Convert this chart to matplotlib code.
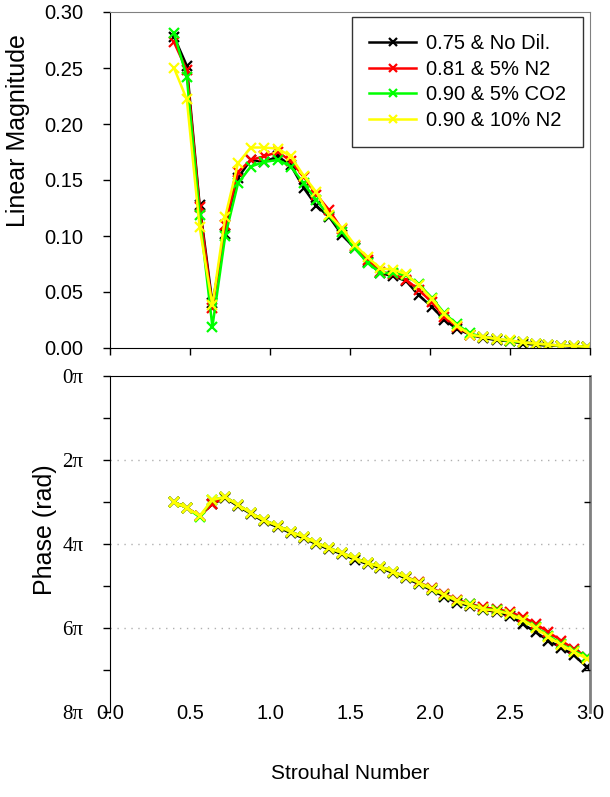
import matplotlib
matplotlib.use("Agg")
import matplotlib.pyplot as plt
import numpy as np

plt.rcParams['font.family'] = ['Liberation Sans', 'DejaVu Sans']

strouhal = [0.40, 0.48, 0.56, 0.64, 0.72, 0.80, 0.88, 0.96, 1.05, 1.13, 1.21,
            1.29, 1.37, 1.45, 1.53, 1.61, 1.69, 1.77, 1.85, 1.93, 2.01, 2.09,
            2.17, 2.25, 2.33, 2.42, 2.50, 2.58, 2.66, 2.74, 2.82, 2.90, 2.98]

labels = ["0.75 & No Dil.", "0.81 & 5% N2", "0.90 & 5% CO2", "0.90 & 10% N2"]
colors = ["#000000", "#ff0000", "#00ff00", "#ffff00"]

mag_black = [0.278, 0.252, 0.128, 0.040, 0.102, 0.152, 0.168, 0.166, 0.171, 0.163, 0.143,
             0.127, 0.117, 0.101, 0.089, 0.077, 0.067, 0.064, 0.060, 0.047, 0.037, 0.025,
             0.017, 0.012, 0.009, 0.007, 0.006, 0.004, 0.003, 0.002, 0.002, 0.001, 0.001]
mag_red = [0.273, 0.248, 0.126, 0.036, 0.110, 0.157, 0.168, 0.171, 0.175, 0.167, 0.153,
           0.137, 0.123, 0.106, 0.091, 0.079, 0.068, 0.066, 0.061, 0.052, 0.041, 0.028,
           0.019, 0.012, 0.010, 0.008, 0.006, 0.005, 0.004, 0.003, 0.002, 0.002, 0.001]
mag_green = [0.281, 0.242, 0.119, 0.019, 0.100, 0.147, 0.162, 0.166, 0.168, 0.162, 0.147,
             0.132, 0.118, 0.104, 0.089, 0.076, 0.067, 0.067, 0.065, 0.057, 0.045, 0.031,
             0.021, 0.013, 0.010, 0.008, 0.006, 0.005, 0.004, 0.003, 0.002, 0.002, 0.001]
mag_yellow = [0.250, 0.222, 0.108, 0.038, 0.117, 0.165, 0.179, 0.179, 0.178, 0.171, 0.154,
              0.139, 0.119, 0.107, 0.092, 0.081, 0.071, 0.070, 0.066, 0.056, 0.044, 0.030,
              0.020, 0.012, 0.010, 0.008, 0.007, 0.005, 0.004, 0.003, 0.002, 0.002, 0.001]

# phase in units of pi
ph_black = [3.00, 3.14, 3.33, 3.05, 2.90, 3.10, 3.28, 3.46, 3.60, 3.74, 3.86,
            4.00, 4.13, 4.24, 4.37, 4.48, 4.57, 4.69, 4.82, 4.95, 5.10, 5.25,
            5.40, 5.47, 5.56, 5.62, 5.72, 5.90, 6.10, 6.30, 6.47, 6.65, 6.93]
ph_red = [3.00, 3.14, 3.33, 3.05, 2.88, 3.07, 3.26, 3.43, 3.57, 3.71, 3.83,
          3.97, 4.10, 4.21, 4.34, 4.45, 4.54, 4.66, 4.78, 4.91, 5.05, 5.19,
          5.33, 5.42, 5.51, 5.55, 5.62, 5.74, 5.90, 6.10, 6.30, 6.50, 6.68]
ph_green = [3.00, 3.14, 3.36, 2.95, 2.88, 3.07, 3.26, 3.43, 3.57, 3.71, 3.83,
            3.97, 4.10, 4.21, 4.34, 4.45, 4.54, 4.66, 4.79, 4.92, 5.07, 5.21,
            5.35, 5.44, 5.54, 5.58, 5.66, 5.80, 5.98, 6.18, 6.38, 6.55, 6.68]
ph_yellow = [3.00, 3.14, 3.33, 2.95, 2.88, 3.07, 3.26, 3.43, 3.57, 3.71, 3.83,
             3.97, 4.10, 4.21, 4.34, 4.45, 4.54, 4.66, 4.79, 4.92, 5.07, 5.21,
             5.36, 5.45, 5.55, 5.59, 5.67, 5.81, 6.00, 6.21, 6.40, 6.57, 6.73]

mags = [mag_black, mag_red, mag_green, mag_yellow]
phases = [ph_black, ph_red, ph_green, ph_yellow]

W, H = 610, 797
fig = plt.figure(figsize=(W / 100, H / 100), dpi=100)

def frac(x0, y0, x1, y1):
    return [x0 / W, 1 - y1 / H, (x1 - x0) / W, (y1 - y0) / H]

ax1 = fig.add_axes(frac(110, 12, 590, 348))
ax2 = fig.add_axes(frac(110, 376, 590, 712))

for m, c, lab in zip(mags, colors, labels):
    ax1.plot(strouhal, m, color=c, lw=1.8, marker='x', ms=7, mew=1.6, label=lab)

for p, c in zip(phases, colors):
    ax2.plot(strouhal, p, color=c, lw=1.8, marker='x', ms=7.5, mew=1.7)

# top axes styling
ax1.set_xlim(0, 3.0)
ax1.set_ylim(0, 0.30)
ax1.set_yticks(np.arange(0, 0.301, 0.05))
ax1.set_yticklabels([f"{v:.2f}" for v in np.arange(0, 0.301, 0.05)])
ax1.set_xticks(np.arange(0, 3.01, 0.5))
ax1.tick_params(axis='x', labelbottom=False, direction='out', length=5, width=1)
ax1.tick_params(axis='y', direction='out', length=5, width=1, labelsize=14.5, pad=14)
for s in ['top', 'right']:
    ax1.spines[s].set_color('#808080')
for s in ['left', 'bottom']:
    ax1.spines[s].set_color('black')
ax1.set_ylabel("Linear Magnitude", fontsize=18)
ax1.yaxis.set_label_coords(-0.167, 0.646)

leg = ax1.legend(loc='upper right', bbox_to_anchor=(0.9854, 0.985), borderaxespad=0,
                 fontsize=14.5, frameon=True, fancybox=False, edgecolor='black',
                 handlelength=2.3, handletextpad=0.5, labelspacing=0.33,
                 borderpad=0.85, markerscale=0.8)
leg.get_frame().set_linewidth(1.0)

# bottom axes styling
ax2.set_xlim(0, 3.0)
ax2.set_ylim(8, 0)
ax2.set_yticks([0, 2, 4, 6, 8])
ax2.set_yticklabels(["0\u03c0", "2\u03c0", "4\u03c0", "6\u03c0", "8\u03c0"],
                    family=['Liberation Serif', 'DejaVu Serif'], fontsize=15)
ax2.set_yticks([1, 3, 5, 7], minor=True)
ax2.tick_params(axis='y', which='both', direction='out', length=5, width=1, pad=14)
ax2.set_xticks(np.arange(0, 3.01, 0.5))
ax2.set_xticklabels([f"{v:.1f}" for v in np.arange(0, 3.01, 0.5)], fontsize=14.5)
ax2.tick_params(axis='x', direction='out', length=0, pad=-6)
for g in [2, 4, 6]:
    ax2.axhline(g, color='#b0b0b0', lw=1.0, ls=(0, (1, 4)), zorder=0)
ax2.spines['right'].set_color('#808080')
ax2.spines['right'].set_linewidth(2)
ax2.spines['bottom'].set_visible(False)
ax2.set_ylabel("Phase (rad)", fontsize=18)
ax2.yaxis.set_label_coords(-0.110, 0.542)
ax2.set_xlabel("Strouhal Number", fontsize=15)
ax2.xaxis.set_label_coords(0.5, -0.155)

# right side minor ticks inward
ax2r = ax2.twinx()
ax2r.set_ylim(8, 0)
ax2r.set_yticks([1, 3, 5, 7])
ax2r.tick_params(axis='y', direction='in', length=4, width=1, labelright=False)
for s in ax2r.spines.values():
    s.set_visible(False)

fig.savefig("out.png", dpi=100)
